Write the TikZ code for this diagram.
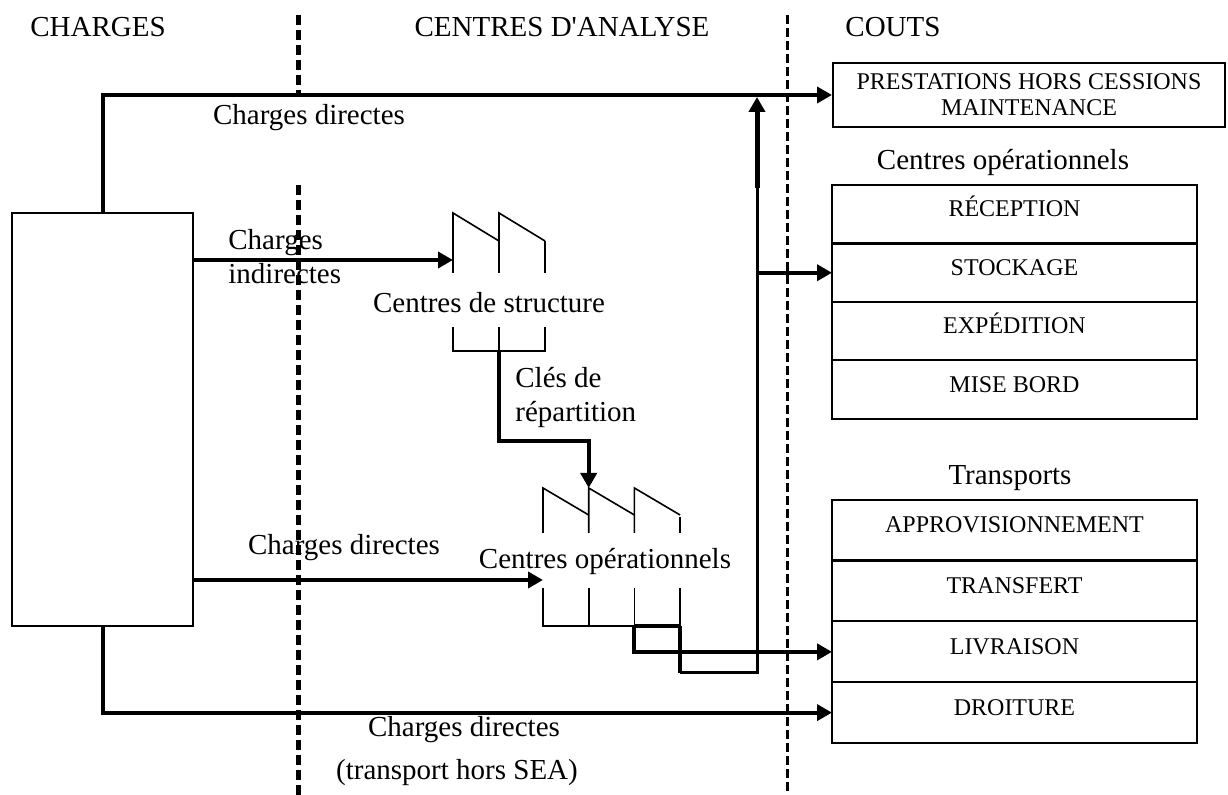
\documentclass[tikz,border=0pt]{standalone}
\usepackage{fontspec}
\setmainfont{Liberation Serif}
\usetikzlibrary{arrows.meta, positioning, calc}

\begin{document}
\begin{tikzpicture}[
    x=0.5pt, y=-0.5pt,
    node distance=0pt,
    lbl/.style={font=\fontsize{14.5}{17}\selectfont, inner sep=0pt},
    cell/.style={draw, line width=1pt, outer sep=0pt, inner sep=0pt,
                 minimum width=182.5pt, minimum height=#1,
                 text height=8.5pt, text depth=6pt,
                 font=\fontsize{12}{14}\selectfont},
    cell/.default=29.25pt,
    flow/.style={line width=2pt},
    arr/.style={flow, -{Triangle[length=7.5pt, width=8pt]}},
    saw/.style={line width=0.8pt},
    sepA/.style={line width=2.5pt, dash pattern=on 5pt off 2.5pt},
    sepB/.style={line width=1.5pt, dash pattern=on 4.5pt off 2pt}
  ]
  \useasboundingbox (0,0) rectangle (1228,795);

  % separateurs
  \draw[sepA] (298,15) -- (298,95);
  \draw[sepA] (298,185) -- (298,795);
  \draw[sepB] (787,15) -- (787,795);

  % en-tetes
  \node[lbl] (hcharges) at (98,27)  {CHARGES};
  \node[lbl] (hcentres) at (562,27) {CENTRES D\textquotesingle ANALYSE};
  \node[lbl] (hcouts)   at (893,27) {COUTS};

  % charges
  \node[draw, line width=1pt, inner sep=0pt, minimum width=90.5pt,
        minimum height=206.5pt] (src) at (102.5,419.5) {};

  % couts
  \node[draw, line width=1pt, inner sep=0pt, minimum width=196pt,
        minimum height=32pt, align=center,
        font=\fontsize{12}{13}\selectfont] (prest) at (1029,95)
        {PRESTATIONS HORS CESSIONS\\MAINTENANCE};

  \node[lbl] (lopr) at (1003,163) {Centres opérationnels};
  \node[cell] (rec) at (1014.5,214.25) {RÉCEPTION};
  \node[cell, below=of rec]   (stock) {STOCKAGE};
  \node[cell, below=of stock] (exped) {EXPÉDITION};
  \node[cell, below=of exped] (mise)  {MISE BORD};
  \draw[line width=1.6pt] (rec.south west) -- (rec.south east);

  \node[lbl] (ltrans) at (1010,478) {Transports};
  \node[cell=30.375pt] (appro) at (1014.5,530.375) {APPROVISIONNEMENT};
  \node[cell=30.375pt, below=of appro]  (transf) {TRANSFERT};
  \node[cell=30.375pt, below=of transf] (livr)   {LIVRAISON};
  \node[cell=30.375pt, below=of livr]   (droit)  {DROITURE};
  \draw[line width=1.6pt] (appro.south west) -- (appro.south east);

  % centres de structure
  \coordinate (cs) at (453,213);
  \foreach \i in {0,1}
    \draw[saw] ($(cs)+(\i*46,60)$) -- ++(0,-60) -- ++(46,28);
  \draw[saw] ($(cs)+(92,28)$) -- ++(0,32);
  \draw[saw] ($(cs)+(0,114)$) -- ++(0,24) -- ++(92,0) -- ++(0,-24);
  \draw[saw] ($(cs)+(46,114)$) -- ++(0,24);
  \node[lbl] (lcs) at (489,303) {Centres de structure};
  \coordinate (csin)  at ($(cs)+(0,47)$);
  \coordinate (csout) at ($(cs)+(46,138)$);

  % centres operationnels
  \coordinate (co) at (543,488);
  \foreach \i in {0,1,2}
    \draw[saw] ($(co)+(\i*45.7,45)$) -- ++(0,-45) -- ++(45.7,27);
  \draw[saw] ($(co)+(137.1,29)$) -- ++(0,16);
  \draw[saw] ($(co)+(0,100)$) -- ++(0,38) -- ++(137.1,0) -- ++(0,-38);
  \foreach \i in {1,2}
    \draw[saw] ($(co)+(\i*45.7,100)$) -- ++(0,38);
  \node[lbl] (lco) at (605,562) {Centres opérationnels};
  \coordinate (coin)  at ($(co)+(45.7,0)$);
  \coordinate (codin) at ($(co)+(0,92)$);
  \coordinate (cout3) at ($(co)+(91.4,138)$);
  \coordinate (cout4) at ($(co)+(137.1,138)$);
  \coordinate (loop)  at ($(cout4)+(0,47)$);
  \coordinate (turn)  at (757,188);
  \coordinate (join)  at (757,97);

  % flux
  \draw[arr] (src.north) |- (prest.west);
  \draw[arr] (src.south) |- (droit.west);
  \draw[arr] (src.east |- csin) -- (csin);
  \draw[arr] (src.east |- codin) -- (codin);
  \draw[arr] (csout) -- ++(0,90) -| (coin);
  \draw[flow] (cout3) -- (cout4);
  \draw[arr] (cout3) |- (livr.west);
  \draw[flow] (cout4) -- (loop);
  \draw[line width=1.5pt] (loop) -| (turn);
  \draw[arr, line width=2.5pt] (turn) -- (join);
  \draw[arr] (join |- stock.west) -- (stock.west);

  % libelles
  \node[lbl] (ldir1) at (309,118) {Charges directes};
  \node[lbl, anchor=west, align=left] (lind) at (228,257) {Charges\\indirectes};
  \node[lbl, anchor=west, align=left] (lcle) at (515,398) {Clés de\\répartition};
  \node[lbl] (ldir2) at (344,548) {Charges directes};
  \node[lbl] (ldir3) at (464,730) {Charges directes};
  \node[lbl] (ltsea) at (457,773) {(transport hors SEA)};
\end{tikzpicture}
\end{document}
